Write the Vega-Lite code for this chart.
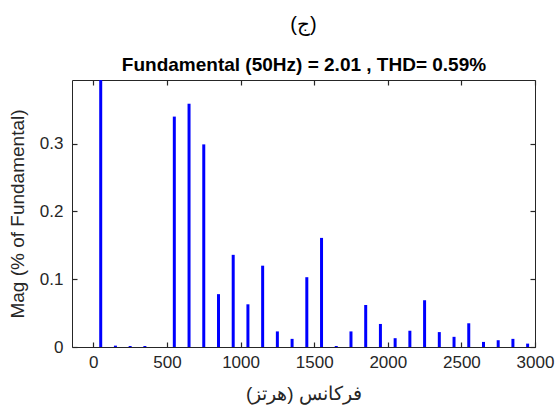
{
  "$schema": "https://vega.github.io/schema/vega-lite/v6.json",
  "autosize": "none",
  "width": 463,
  "height": 267,
  "padding": {"left": 72, "top": 80, "right": 20, "bottom": 71},
  "background": "white",
  "title": {
    "text": "(ج)",
    "anchor": "middle",
    "font": "Liberation Sans",
    "fontSize": 20,
    "fontWeight": "normal",
    "color": "#000000",
    "offset": 20
  },
  "config": {
    "view": {"stroke": "#262626", "strokeWidth": 1},
    "axis": {
      "labelFont": "Liberation Sans",
      "labelFontSize": 17,
      "labelColor": "#262626",
      "titleFont": "Liberation Sans",
      "titleFontSize": 19,
      "titleFontWeight": "normal",
      "titleColor": "#262626",
      "domain": false,
      "grid": false,
      "tickColor": "#262626",
      "tickWidth": 1.2,
      "tickSize": -5,
      "labelFlush": false
    }
  },
  "data": {
    "values": [
      {"freq": 50, "mag": 100},
      {"freq": 150, "mag": 0.002},
      {"freq": 250, "mag": 0.0015},
      {"freq": 350, "mag": 0.0015},
      {"freq": 550, "mag": 0.34},
      {"freq": 650, "mag": 0.359},
      {"freq": 750, "mag": 0.299},
      {"freq": 850, "mag": 0.078},
      {"freq": 950, "mag": 0.136},
      {"freq": 1050, "mag": 0.063},
      {"freq": 1150, "mag": 0.12},
      {"freq": 1250, "mag": 0.023},
      {"freq": 1350, "mag": 0.012},
      {"freq": 1450, "mag": 0.103},
      {"freq": 1550, "mag": 0.161},
      {"freq": 1650, "mag": 0.0015},
      {"freq": 1750, "mag": 0.023},
      {"freq": 1850, "mag": 0.062},
      {"freq": 1950, "mag": 0.034},
      {"freq": 2050, "mag": 0.013},
      {"freq": 2150, "mag": 0.024},
      {"freq": 2250, "mag": 0.069},
      {"freq": 2350, "mag": 0.022},
      {"freq": 2450, "mag": 0.015},
      {"freq": 2550, "mag": 0.035},
      {"freq": 2650, "mag": 0.0075},
      {"freq": 2750, "mag": 0.01},
      {"freq": 2850, "mag": 0.012},
      {"freq": 2950, "mag": 0.005}
    ]
  },
  "resolve": {"axis": {"x": "independent", "y": "independent"}},
  "layer": [
    {
      "mark": {"type": "rule", "color": "#0000FF", "strokeWidth": 3, "clip": true},
      "encoding": {
        "x": {
          "field": "freq", "type": "quantitative",
          "scale": {"domain": [-145, 3000], "nice": false, "zero": false},
          "axis": {"values": [0, 500, 1000, 1500, 2000, 2500, 3000], "format": "d", "title": "فرکانس (هرتز)", "labelPadding": 12, "titlePadding": 14}
        },
        "y": {
          "field": "mag", "type": "quantitative",
          "scale": {"domain": [0, 0.394], "nice": false, "clamp": true},
          "axis": {"values": [0, 0.1, 0.2, 0.3], "format": "~g", "title": "Mag (% of Fundamental)", "labelPadding": 14, "titlePadding": 12}
        },
        "y2": {"datum": 0}
      }
    },
    {
      "mark": {"type": "rule", "opacity": 0},
      "encoding": {
        "x": {
          "field": "freq", "type": "quantitative",
          "axis": {"orient": "top", "values": [0, 500, 1000, 1500, 2000, 2500, 3000], "labels": false, "title": "Fundamental (50Hz) = 2.01 , THD= 0.59%", "titleFontWeight": "bold", "titleFontSize": 19, "titleColor": "#000000", "titlePadding": 5}
        },
        "y": {
          "field": "mag", "type": "quantitative",
          "axis": {"orient": "right", "values": [0, 0.1, 0.2, 0.3], "labels": false, "title": null}
        },
        "y2": {"datum": 0}
      }
    }
  ]
}
